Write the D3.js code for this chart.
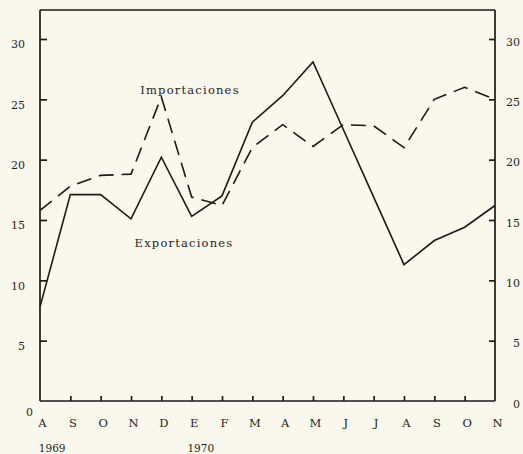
<!DOCTYPE html>
<html>
<head>
<meta charset="utf-8">
<script src="https://cdn.jsdelivr.net/npm/d3@7"></script>
<style>
  html, body { margin: 0; padding: 0; background: #faf7ec; }
  svg { display: block; }
  .tick text { font-family: "DejaVu Serif", serif; fill: #1e1e1e; }
</style>
</head>
<body>
<svg id="chart" width="523" height="454"></svg>
<script>
// months Aug 1969 - Nov 1970
const months = ['A', 'S', 'O', 'N', 'D', 'E', 'F', 'M', 'A', 'M', 'J', 'J', 'A', 'S', 'O', 'N'];
const exportaciones = [7.8, 17.1, 17.1, 15.1, 20.2, 15.3, 17.0, 23.1, 25.3, 28.1, 22.5, 16.9, 11.3, 13.3, 14.4, 16.2];
const importaciones = [15.8, 17.8, 18.7, 18.8, 25.2, 16.9, 16.2, 21.0, 22.9, 21.1, 22.9, 22.8, 21.0, 25.0, 26.0, 25.0];
const yTicks = [0, 5, 10, 15, 20, 25, 30];
const years = [{ label: '1969', idx: 0.4 }, { label: '1970', idx: 5.3 }];

const svg = d3.select('#chart');
const m = { left: 40, right: 495, top: 10, bottom: 401 };
const ink = '#1a1a1a';

const x = d3.scaleLinear().domain([0, months.length - 1]).range([m.left, m.right]);
const y = d3.scaleLinear().domain([0, 30]).range([m.bottom, 39]);

// frame top line
svg.append('line')
  .attr('x1', m.left).attr('x2', m.right)
  .attr('y1', m.top).attr('y2', m.top)
  .attr('stroke', ink).attr('stroke-width', 1.7);

// left axis
const yl = svg.append('g')
  .attr('transform', `translate(${m.left},0)`)
  .call(d3.axisLeft(y).tickValues(yTicks).tickSize(-7).tickPadding(15));
yl.select('.domain').attr('d', `M0,${m.top}V${m.bottom}`);
yl.selectAll('.tick line').filter(d => d === 0).remove();
yl.selectAll('.tick text')
  .attr('font-size', 11)
  .attr('dy', d => d === 0 ? '1.35em' : '0.8em')
  .attr('x', d => d === 0 ? -7 : -15);

// right axis
const yr = svg.append('g')
  .attr('transform', `translate(${m.right},0)`)
  .call(d3.axisRight(y).tickValues(yTicks).tickSize(-6).tickPadding(8));
yr.select('.domain').attr('d', `M0,${m.top}V${m.bottom}`);
yr.selectAll('.tick line').filter(d => d === 0).remove();
yr.selectAll('.tick text')
  .attr('font-size', 11)
  .attr('text-anchor', 'end')
  .attr('x', 25)
  .attr('dy', '0.55em');

// bottom axis with month labels
const xa = svg.append('g')
  .attr('transform', `translate(0,${m.bottom})`)
  .call(d3.axisBottom(x).tickValues(d3.range(months.length))
    .tickFormat(i => months[i]).tickSize(-5).tickPadding(23));
xa.select('.domain').attr('d', `M${m.left},0H${m.right}`);
xa.selectAll('.tick line').filter(d => d === 0 || d === months.length - 1).remove();
xa.selectAll('.tick text').attr('font-size', 11.5).attr('dy', '0.3em').attr('dx', 2);

svg.selectAll('path.domain, .tick line')
  .attr('stroke', ink).attr('stroke-width', 1.7);

// years
svg.selectAll('text.year')
  .data(years)
  .join('text')
  .attr('class', 'year')
  .attr('x', d => x(d.idx))
  .attr('y', 452)
  .attr('text-anchor', 'middle')
  .attr('font-family', '"DejaVu Serif", serif')
  .attr('font-size', 10.5)
  .attr('fill', '#1e1e1e')
  .text(d => d.label);

// series
const line = d3.line().x((d, i) => x(i)).y(d => y(d));

svg.append('path')
  .datum(importaciones)
  .attr('d', line)
  .attr('fill', 'none')
  .attr('stroke', ink)
  .attr('stroke-width', 1.6)
  .attr('stroke-dasharray', '15,8');

svg.append('path')
  .datum(exportaciones)
  .attr('d', line)
  .attr('fill', 'none')
  .attr('stroke', ink)
  .attr('stroke-width', 1.6)
  .attr('stroke-linejoin', 'miter');

// series labels
const labels = [
  { text: 'Importaciones', cx: 190, cy: 94 },
  { text: 'Exportaciones', cx: 184, cy: 247 }
];
svg.selectAll('text.series')
  .data(labels)
  .join('text')
  .attr('class', 'series')
  .attr('x', d => d.cx)
  .attr('y', d => d.cy)
  .attr('text-anchor', 'middle')
  .attr('font-family', '"DejaVu Serif", serif')
  .attr('font-size', 11.5)
  .attr('letter-spacing', 1.2)
  .attr('fill', '#1e1e1e')
  .text(d => d.text);
</script>
</body>
</html>
